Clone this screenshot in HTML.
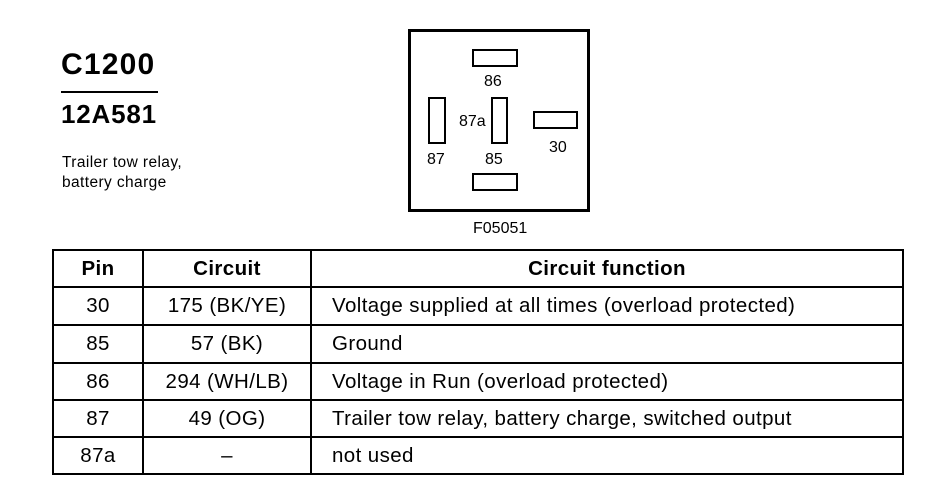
<!DOCTYPE html>
<html><head><meta charset="utf-8"><style>
body{margin:0;background:#fff;width:940px;height:496px;overflow:hidden;position:relative;font-family:"Liberation Sans",Arial,sans-serif;color:#000}
.a{position:absolute;white-space:nowrap}
.r{position:absolute;border:2px solid #000;box-sizing:border-box}
table{position:absolute;left:52px;top:249px;border-collapse:collapse;font-size:20.5px;letter-spacing:0.4px;table-layout:fixed}
td{border:2px solid #000;height:33px;padding:0;text-align:center;overflow:hidden;white-space:nowrap}
td.f{text-align:left;padding-left:20px}
</style></head><body>
<div class="a" style="left:61px;top:48px;font-size:30px;font-weight:bold;letter-spacing:1.2px">C1200</div>
<div class="a" style="left:61px;top:91px;width:97px;height:2px;background:#000"></div>
<div class="a" style="left:61px;top:99px;font-size:26px;font-weight:bold;letter-spacing:0.8px">12A581</div>
<div class="a" style="left:62px;top:153px;font-size:15.5px;line-height:20px;letter-spacing:0.4px">Trailer tow relay,<br>battery charge</div>

<div class="r" style="left:408px;top:29px;width:182px;height:183px;border-width:3px"></div>
<div class="r" style="left:472px;top:49px;width:46px;height:18px"></div>
<div class="r" style="left:428px;top:97px;width:18px;height:47px"></div>
<div class="r" style="left:491px;top:97px;width:17px;height:47px"></div>
<div class="r" style="left:533px;top:111px;width:45px;height:18px"></div>
<div class="r" style="left:472px;top:173px;width:46px;height:18px"></div>
<div class="a" style="left:484px;top:73px;font-size:16px">86</div>
<div class="a" style="left:459px;top:113px;font-size:16px">87a</div>
<div class="a" style="left:427px;top:151px;font-size:16px">87</div>
<div class="a" style="left:485px;top:151px;font-size:16px">85</div>
<div class="a" style="left:549px;top:139px;font-size:16px">30</div>
<div class="a" style="left:473px;top:220px;font-size:16px">F05051</div>

<table>
<tr style="font-weight:bold"><td style="width:88px;height:35px">Pin</td><td style="width:166px">Circuit</td><td style="width:590px">Circuit function</td></tr>
<tr><td style="height:36px">30</td><td>175 (BK/YE)</td><td class="f">Voltage supplied at all times (overload protected)</td></tr>
<tr><td style="height:36px">85</td><td>57 (BK)</td><td class="f">Ground</td></tr>
<tr><td style="height:35px">86</td><td>294 (WH/LB)</td><td class="f">Voltage in Run (overload protected)</td></tr>
<tr><td style="height:35px">87</td><td>49 (OG)</td><td class="f">Trailer tow relay, battery charge, switched output</td></tr>
<tr><td style="height:35px">87a</td><td>–</td><td class="f">not used</td></tr>
</table>
</body></html>
